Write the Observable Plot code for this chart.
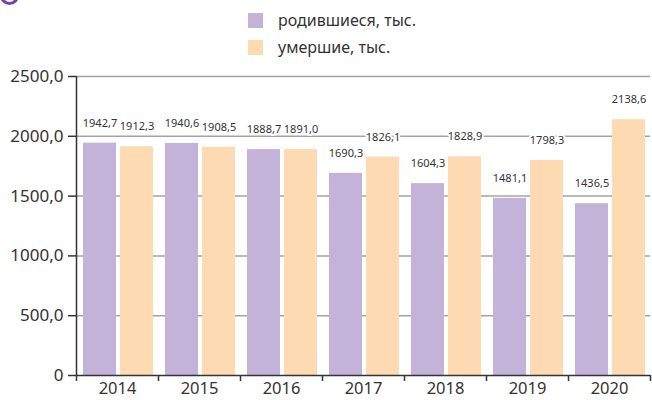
<!DOCTYPE html>
<html><head><meta charset="utf-8">
<script src="https://cdn.jsdelivr.net/npm/d3@7"></script>
<script src="https://cdn.jsdelivr.net/npm/@observablehq/plot@0.6"></script>
<style>
body{margin:0;background:#fff;font-family:"Noto Sans",sans-serif;}
#wrap{position:relative;width:652px;height:400px;overflow:hidden;}
#legend{position:relative;height:62px;}
.sw{position:absolute;left:248px;width:15px;height:15px;}
.lt{position:absolute;left:278px;font-size:16px;color:#333;line-height:20px;white-space:nowrap;}
#circle{position:absolute;left:0px;top:-14px;width:13px;height:13px;border:3px solid #7d3fa5;border-radius:50%;}
</style></head><body>
<div id="wrap">
<div id="circle"></div>
<div id="legend"></div>
<div id="chart"></div>
</div>
<script>
const years = [2014, 2015, 2016, 2017, 2018, 2019, 2020];
const births = [1942.7, 1940.6, 1888.7, 1690.3, 1604.3, 1481.1, 1436.5];
const deaths = [1912.3, 1908.5, 1891.0, 1826.1, 1828.9, 1798.3, 2138.6];
const seriesNames = ["родившиеся, тыс.", "умершие, тыс."];
const seriesColors = ["#c4b3d8", "#fddab1"];
const yTicks = [0, 500, 1000, 1500, 2000, 2500];

const rows = years.flatMap((y, i) => [
  {year: y, s: 0, value: births[i]},
  {year: y, s: 1, value: deaths[i]}
]);
const slot = [[-0.415, -0.012], [0.037, 0.439]];
const edges = years.map(y => y - 0.5).concat([years[years.length - 1] + 0.5]);
const fmt = d => d.toFixed(1).replace(".", ",");

const legend = document.getElementById("legend");
seriesNames.forEach((name, i) => {
  const sw = document.createElement("div");
  sw.className = "sw"; sw.style.top = (13 + 27 * i) + "px"; sw.style.background = seriesColors[i];
  const t = document.createElement("div");
  t.className = "lt"; t.style.top = (10 + 27 * i) + "px"; t.textContent = name;
  legend.append(sw, t);
});

const chart = Plot.plot({
  width: 652, height: 338,
  marginLeft: 76, marginRight: 2, marginTop: 14, marginBottom: 25,
  style: {fontFamily: "Noto Sans", color: "#333", background: "#fff"},
  x: {domain: [edges[0], edges[edges.length - 1]], label: null},
  y: {domain: [0, 2500], label: null},
  marks: [
    Plot.ruleY(yTicks.filter(d => d > 0), {stroke: "#a3a3a3", strokeWidth: 1.5}),
    Plot.rectY(rows, {
      x1: d => d.year + slot[d.s][0], x2: d => d.year + slot[d.s][1],
      y: "value", fill: d => seriesColors[d.s]
    }),
    Plot.text(rows, {
      x: d => d.year + (slot[d.s][0] + slot[d.s][1]) / 2, y: "value",
      text: d => fmt(d.value), dy: -20, fontSize: 11, fill: "#333",
      stroke: "white", strokeWidth: 4
    }),
    Plot.ruleX([edges[0]], {y1: 0, y2: 2500, stroke: "#333", strokeWidth: 1.5}),
    Plot.ruleY([0], {stroke: "#333", strokeWidth: 1.5}),
    Plot.axisY({ticks: yTicks, tickSize: 8, tickPadding: 5, fontSize: 17, label: null,
      tickFormat: d => d === 0 ? "0" : fmt(d), strokeWidth: 1.5}),
    Plot.axisX({ticks: edges, tickSize: 6, tickFormat: () => "", strokeWidth: 1.5, label: null}),
    Plot.axisX({ticks: years, tickSize: 0, tickPadding: 7, fontSize: 16.5, label: null, tickFormat: d => String(d)})
  ]
});
document.getElementById("chart").append(chart);
</script>
</body></html>
